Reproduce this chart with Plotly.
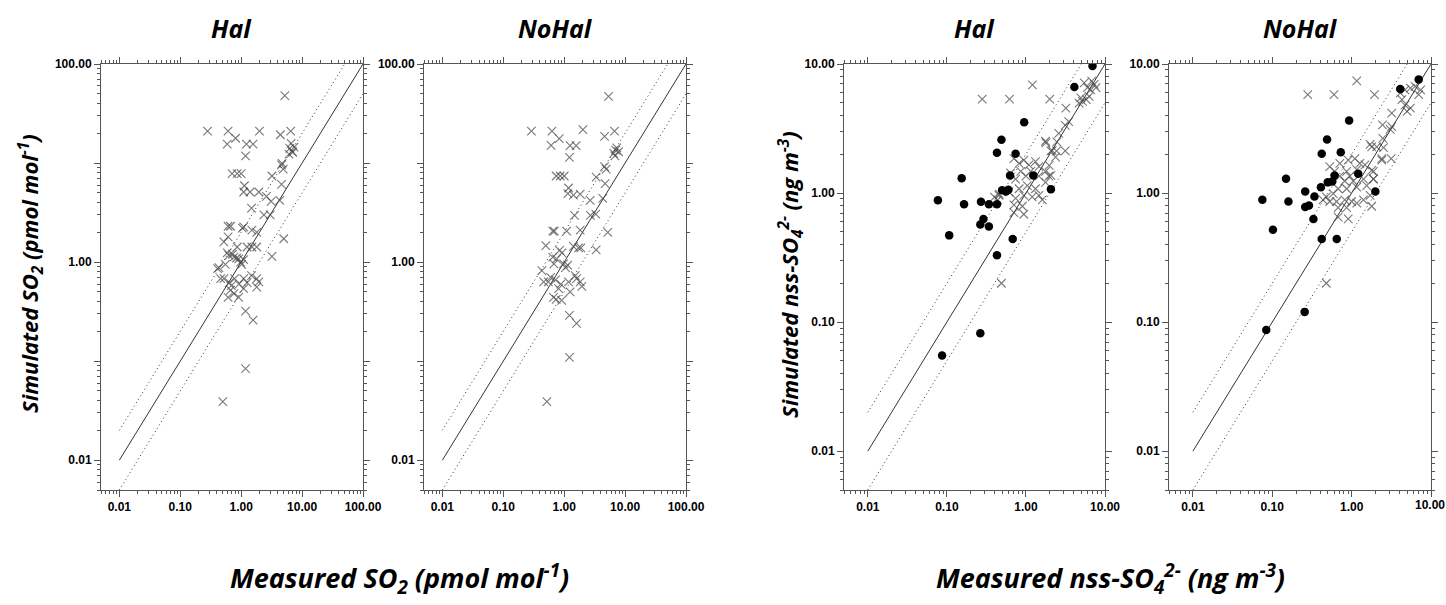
import numpy as np
import plotly.graph_objects as go

W, H = 1446, 605

# ---------------- data ----------------
# Panel 1: SO2, Hal (measured, simulated)
so2_hal_meas = [5.2, 0.28, 0.61, 2.0, 4.4, 6.5, 0.81, 0.59, 1.22, 1.57,
                1.18, 6.3, 6.9, 6.1, 7.4, 6.6, 7.0, 4.6, 4.9, 4.7,
                3.2, 0.71, 0.86, 1.0, 4.6, 1.13, 1.1, 1.4, 1.95, 2.6,
                3.1, 4.3, 1.48, 2.36, 3.0, 0.61, 0.67, 1.1, 1.05, 1.5,
                1.8, 0.61, 0.52, 5.0, 0.86, 1.25, 1.5, 1.8, 0.59, 0.63,
                0.76, 3.2, 0.91, 1.1, 0.98, 0.43, 0.41, 0.46, 0.52, 0.64,
                0.78, 0.92, 1.1, 1.25, 1.48, 1.8, 1.95, 1.8, 0.67, 0.76,
                0.91, 1.1, 0.61, 1.18, 1.57, 1.18, 0.5, 0.72, 0.84, 1.02,
                0.55, 0.69]
so2_hal_sim = [48, 21, 21, 21, 19.3, 21, 17.8, 15.5, 15.5, 15.5,
               11.8, 14.1, 13.1, 12.3, 14.5, 15.8, 12.8, 9.6, 8.7, 9.9,
               7.4, 7.8, 7.8, 7.8, 6.1, 5.9, 5.1, 5.1, 5.1, 4.6,
               4.1, 4.2, 3.5, 3.0, 3.0, 2.3, 2.3, 2.27, 2.2, 2.1,
               2.0, 1.8, 1.6, 1.72, 1.42, 1.42, 1.42, 1.42, 1.24, 1.17,
               1.12, 1.14, 1.08, 1.06, 1.0, 0.88, 0.86, 0.68, 0.68, 0.62,
               0.68, 0.6, 0.68, 0.62, 0.73, 0.68, 0.63, 0.56, 0.52, 0.48,
               0.44, 0.54, 0.44, 0.32, 0.26, 0.084, 0.039, 1.2, 1.1, 0.95,
               0.95, 0.58]

# Panel 2: SO2, NoHal
so2_nohal_meas = [5.35, 0.29, 0.63, 2.03, 4.6, 6.7, 0.83, 0.61, 1.25, 1.57,
                  1.22, 6.5, 7.0, 7.3, 7.8, 6.8, 4.6, 4.9, 3.35, 0.74,
                  0.86, 1.0, 4.7, 1.18, 1.15, 1.42, 1.83, 2.67, 4.3, 3.3,
                  2.7, 1.48, 0.65, 0.69, 1.1, 1.83, 5.2, 0.5, 1.42, 1.72,
                  1.88, 0.84, 0.92, 3.35, 0.65, 0.75, 0.98, 1.14, 0.68, 0.43,
                  0.46, 0.55, 0.81, 1.18, 1.52, 1.6, 1.83, 1.95, 0.67, 0.74,
                  0.91, 1.25, 1.22, 1.6, 1.22, 0.52, 0.6, 0.72, 0.88, 1.05]
so2_nohal_sim = [47, 21, 21, 21.7, 18.6, 21, 17.6, 15.1, 15, 15,
                 11.4, 12.5, 13.5, 14.2, 13.0, 11.8, 9.2, 8.7, 7.2, 7.4,
                 7.4, 7.4, 6.2, 5.6, 4.9, 4.75, 4.85, 4.2, 4.4, 3.05,
                 2.97, 2.97, 2.05, 2.05, 2.05, 2.1, 2.0, 1.47, 1.44, 1.39,
                 1.39, 1.31, 1.24, 1.33, 1.12, 1.08, 0.96, 0.93, 0.96, 0.82,
                 0.63, 0.63, 0.54, 0.63, 0.73, 0.68, 0.63, 0.57, 0.44, 0.42,
                 0.41, 0.5, 0.29, 0.24, 0.109, 0.039, 0.7, 0.66, 0.6, 0.88]

# Panel 3: nss-SO4, Hal  (crosses)
so4_hal_meas = [1.21, 0.28, 0.62, 2.0, 5.46, 6.0, 6.3, 6.8, 7.3, 4.95,
                5.2, 4.7, 5.8, 7.7, 6.6, 3.2, 3.14, 3.47, 2.6, 2.46,
                3.14, 2.44, 1.79, 2.07, 1.97, 2.07, 0.705, 0.82, 0.94, 1.09,
                1.32, 1.46, 1.77, 1.15, 0.86, 1.0, 0.74, 0.64, 1.46, 1.95,
                1.77, 1.04, 1.32, 0.82, 0.61, 0.456, 0.44, 0.74, 0.94, 1.2,
                1.46, 1.61, 0.705, 0.90, 0.705, 0.94, 1.77, 2.15, 2.37, 0.40,
                0.46, 0.49]
so4_hal_sim = [6.9, 5.35, 5.35, 5.35, 7.15, 6.55, 5.62, 7.37, 6.94, 5.46,
               5.14, 4.98, 5.3, 6.55, 6.3, 4.55, 3.35, 3.57, 2.9, 2.49,
               2.12, 2.12, 2.45, 2.12, 1.64, 1.37, 1.85, 1.70, 1.80, 1.65,
               1.75, 1.60, 1.47, 1.47, 1.47, 1.35, 1.28, 1.43, 1.35, 1.35,
               1.21, 1.14, 1.08, 1.08, 1.02, 0.96, 0.885, 0.91, 0.96, 0.935,
               0.96, 0.885, 0.81, 0.79, 0.705, 0.685, 2.52, 2.13, 1.90, 0.93,
               0.98, 0.2]
# Panel 3: filled circles
so4_hal_meas_pt = [6.95, 4.1, 0.95, 0.49, 0.43, 0.74, 0.154, 1.24, 0.63, 0.50,
                   0.56, 0.60, 0.077, 0.165, 0.27, 0.34, 0.43, 2.07, 0.107, 0.29,
                   0.265, 0.34, 0.68, 0.43, 0.265, 0.087]
so4_hal_sim_pt = [9.67, 6.64, 3.54, 2.59, 2.05, 2.02, 1.30, 1.37, 1.37, 1.05,
                  1.03, 1.06, 0.88, 0.82, 0.855, 0.82, 0.82, 1.07, 0.47, 0.63,
                  0.57, 0.55, 0.44, 0.33, 0.082, 0.055]

# Panel 4: nss-SO4, NoHal (crosses)
so4_nohal_meas = [1.16, 0.28, 0.6, 1.94, 4.1, 4.7, 5.5, 6.3, 7.4, 7.0,
                  4.3, 4.7, 5.5, 5.0, 3.2, 3.06, 2.45, 3.2, 2.47, 2.07,
                  1.79, 2.4, 3.15, 1.79, 1.88, 0.71, 0.906, 1.10, 1.27, 1.47,
                  1.16, 0.865, 0.71, 0.61, 0.53, 0.95, 0.82, 1.05, 1.41, 1.88,
                  1.55, 1.16, 0.865, 0.676, 0.585, 0.48, 0.436, 0.53, 0.645, 0.82,
                  1.0, 0.676, 0.865, 1.16, 1.41, 1.71, 1.79, 0.676, 0.906, 1.88,
                  2.4, 1.71, 2.52, 0.48]
so4_nohal_sim = [7.4, 5.8, 5.8, 5.8, 5.97, 6.3, 6.5, 6.7, 6.3, 5.8,
                 5.3, 4.8, 4.55, 4.3, 4.16, 3.12, 3.37, 3.27, 2.65, 2.28,
                 2.28, 1.85, 1.85, 1.5, 1.29, 1.70, 1.80, 1.85, 1.70, 1.65,
                 1.52, 1.47, 1.35, 1.47, 1.60, 1.35, 1.24, 1.24, 1.28, 1.28,
                 1.14, 1.11, 1.08, 1.08, 0.99, 0.935, 0.885, 0.86, 0.86, 0.885,
                 0.86, 0.77, 0.77, 0.835, 0.885, 0.96, 0.79, 0.65, 0.63, 1.47,
                 1.80, 2.38, 2.25, 0.2]
# Panel 4: filled circles
so4_nohal_meas_pt = [7.0, 4.1, 0.93, 0.49, 0.42, 0.73, 0.149, 1.21, 0.61, 0.41,
                     0.5, 0.57, 0.26, 0.075, 0.16, 0.26, 0.29, 0.34, 1.99, 0.102,
                     0.33, 0.42, 0.65, 0.256, 0.084]
so4_nohal_sim_pt = [7.6, 6.4, 3.65, 2.6, 2.02, 2.07, 1.29, 1.41, 1.37, 1.11,
                    1.21, 1.23, 1.03, 0.886, 0.86, 0.78, 0.8, 0.94, 1.03, 0.52,
                    0.63, 0.44, 0.44, 0.12, 0.087]

panel_titles = ["Hal", "NoHal", "Hal", "NoHal"]
so2_ticks = [0.01, 0.1, 1, 10, 100]
so2_xlabels = ["0.01", "0.10", "1.00", "10.00", "100.00"]
so2_ylabels = ["0.01", "", "1.00", "", "100.00"]
so4_ticks = [0.01, 0.1, 1, 10]
so4_labels = ["0.01", "0.10", "1.00", "10.00"]
ref_so2 = [0.01, 100]   # 1:1 line extent
ref_so4 = [0.01, 10]

# ---------------- layout helpers ----------------
def px(x):
    return x / W

def py(y):
    return 1 - y / H

def minor_vals(lo, hi):
    vals = []
    for d in range(-3, 3):
        for k in range(2, 10):
            v = k * 10.0 ** d
            if lo * 0.999 <= v <= hi * 1.001:
                vals.append(v)
    return vals

LINE = "#555555"
tickfont = dict(family="Liberation Sans, Arial", size=12, color="black", weight="bold")

def axis(domain, hi, tickvals, ticktext, anchor):
    return dict(
        type="log", domain=domain, range=[np.log10(0.005), np.log10(hi)],
        tickmode="array", tickvals=tickvals, ticktext=ticktext,
        ticks="outside", ticklen=6, tickwidth=1, tickcolor=LINE,
        showline=True, linecolor=LINE, linewidth=1, mirror="allticks",
        showgrid=False, zeroline=False, tickfont=tickfont, anchor=anchor,
        automargin=False, ticklabeloverflow="allow",
        minor=dict(tickmode="array", tickvals=minor_vals(0.005, hi),
                   ticks="outside", ticklen=3, tickwidth=1, tickcolor=LINE,
                   showgrid=False),
    )

ydom = [py(490), py(64)]
xdoms = [[px(101), px(363)], [px(424), px(686)], [px(844), px(1105)], [px(1169), px(1431)]]

fig = go.Figure()

cross_style = dict(symbol="x-thin", size=8.5, line=dict(width=1.1, color="rgba(75,75,75,0.75)"))
dot_style = dict(symbol="circle", size=8.5, color="black")
DOTS = "1px,3px"

panels = [
    (so2_hal_meas, so2_hal_sim, None, None, ref_so2),
    (so2_nohal_meas, so2_nohal_sim, None, None, ref_so2),
    (so4_hal_meas, so4_hal_sim, so4_hal_meas_pt, so4_hal_sim_pt, ref_so4),
    (so4_nohal_meas, so4_nohal_sim, so4_nohal_meas_pt, so4_nohal_sim_pt, ref_so4),
]

for i, (mx, my, cx, cy, ref) in enumerate(panels):
    n = "" if i == 0 else str(i + 1)
    xa, ya = "x" + n, "y" + n
    lo, hi = ref
    # 1:1 line
    fig.add_trace(go.Scatter(x=[lo, hi], y=[lo, hi], mode="lines",
                             line=dict(color="#333333", width=1), xaxis=xa, yaxis=ya,
                             showlegend=False, hoverinfo="skip"))
    # factor-of-2 lines
    fig.add_trace(go.Scatter(x=[lo, hi / 2], y=[lo * 2, hi], mode="lines",
                             line=dict(color="#333333", width=1, dash=DOTS), xaxis=xa, yaxis=ya,
                             showlegend=False, hoverinfo="skip"))
    fig.add_trace(go.Scatter(x=[lo, hi], y=[lo / 2, hi / 2], mode="lines",
                             line=dict(color="#333333", width=1, dash=DOTS), xaxis=xa, yaxis=ya,
                             showlegend=False, hoverinfo="skip"))
    fig.add_trace(go.Scatter(x=mx, y=my, mode="markers", marker=cross_style,
                             xaxis=xa, yaxis=ya, showlegend=False))
    if cx is not None:
        fig.add_trace(go.Scatter(x=cx, y=cy, mode="markers", marker=dot_style,
                                 xaxis=xa, yaxis=ya, showlegend=False))

layout = dict(width=W, height=H, plot_bgcolor="white", paper_bgcolor="white",
              margin=dict(l=0, r=0, t=0, b=0, pad=0, autoexpand=False), showlegend=False)
for i in range(4):
    n = "" if i == 0 else str(i + 1)
    if i < 2:
        layout["xaxis" + n] = axis(xdoms[i], 100, so2_ticks, so2_xlabels, "y" + n)
        layout["yaxis" + n] = axis(ydom, 100, so2_ticks, so2_ylabels, "x" + n)
    else:
        xlabels = so4_labels if i == 2 else so4_labels[:-1] + [""]
        layout["xaxis" + n] = axis(xdoms[i], 10, so4_ticks, xlabels, "y" + n)
        layout["yaxis" + n] = axis(ydom, 10, so4_ticks, so4_labels, "x" + n)
fig.update_layout(**layout)

tfont = dict(family="Open Sans", color="black", weight="bold", style="italic")
base = dict(xref="paper", yref="paper", showarrow=False, xanchor="center", yanchor="middle")
annots = []
for i, t in enumerate(panel_titles):
    cxp = (xdoms[i][0] + xdoms[i][1]) / 2
    annots.append(dict(text=t, x=cxp, y=py(28), font=dict(size=25, **tfont), **base))
annots.append(dict(text="Measured SO<sub>2</sub> (pmol mol<sup>-1</sup>)", x=px(399), y=py(578),
                   font=dict(size=27, **tfont), **base))
annots.append(dict(text="Measured nss-SO<sub>4</sub><sup>2-</sup> (ng m<sup>-3</sup>)", x=px(1110), y=py(578),
                   font=dict(size=27, **tfont), **base))
annots.append(dict(text="Simulated SO<sub>2</sub> (pmol mol<sup>-1</sup>)", x=px(30), y=py(274),
                   textangle=-90, font=dict(size=22, **tfont), **base))
annots.append(dict(text="Simulated nss-SO<sub>4</sub><sup>2-</sup> (ng m<sup>-3</sup>)", x=px(790), y=py(274),
                   textangle=-90, font=dict(size=22, **tfont), **base))
# last tick label of the right-most panel, pinned to the right edge
annots.append(dict(text=so4_labels[-1], x=1.0, xref="paper",
                   y=py(505), yref="paper", showarrow=False, xanchor="right",
                   yanchor="middle", borderpad=0, font=tickfont))
fig.update_layout(annotations=annots)

fig.write_html("out.html", config={"displayModeBar": False},
               post_script="document.body.style.margin='0';document.body.style.overflow='hidden';")
